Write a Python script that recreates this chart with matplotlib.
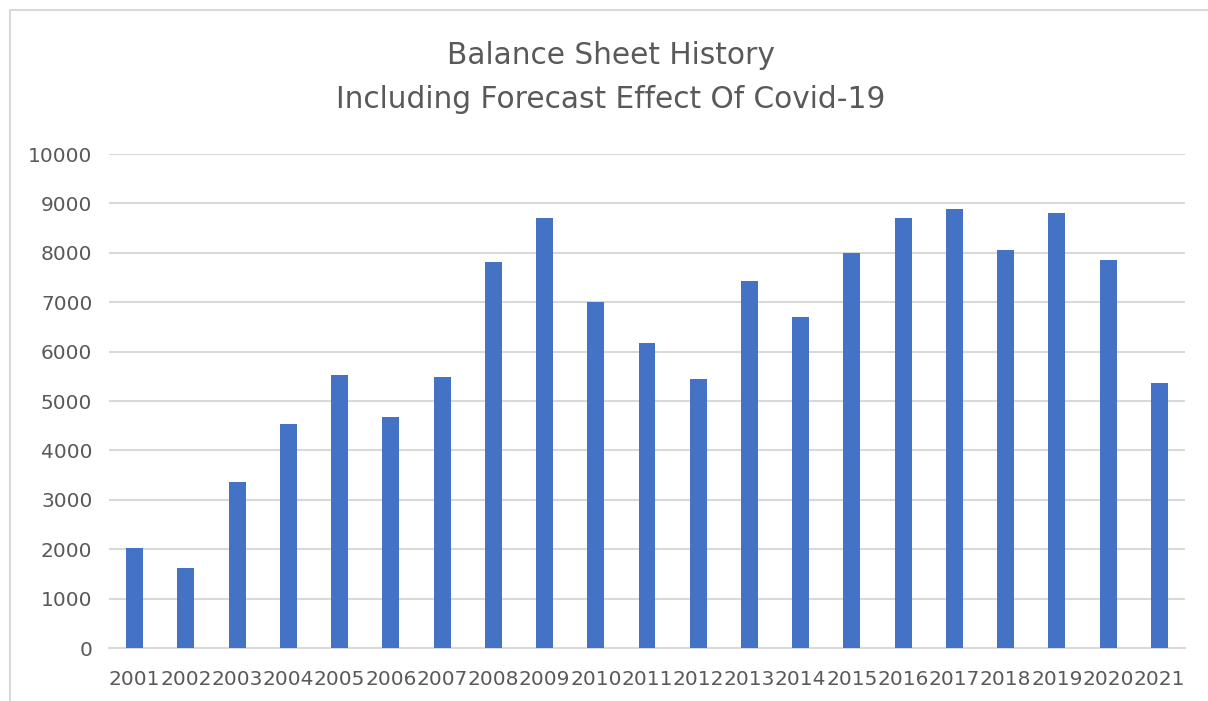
import matplotlib
matplotlib.use("Agg")
import matplotlib.pyplot as plt
from matplotlib.patches import Rectangle

years = ["2001", "2002", "2003", "2004", "2005", "2006", "2007", "2008", "2009", "2010", "2011",
         "2012", "2013", "2014", "2015", "2016", "2017", "2018", "2019", "2020", "2021"]
values = [2020, 1620, 3370, 4540, 5520, 4670, 5490, 7810, 8700, 7000, 6180,
          5450, 7420, 6700, 8000, 8700, 8880, 8050, 8810, 7860, 5370]
yticks = [0, 1000, 2000, 3000, 4000, 5000, 6000, 7000, 8000, 9000, 10000]
title_lines = ["Balance Sheet History", "Including Forecast Effect Of Covid-19"]

W, H = 1208, 701
fig = plt.figure(figsize=(W / 100, H / 100), dpi=100)
plt.rcParams['font.family'] = ['DejaVu Sans']

text_color = "#595959"
grid_color = "#d9d9d9"

# outer chart border
fig.add_artist(Rectangle((10 / W, -0.05), 1.2, (1 - 10 / H) + 0.05, transform=fig.transFigure,
                         facecolor="none", edgecolor=grid_color, linewidth=1.5))

left, right, top, bottom = 109, 1185, 154, 648
ax = fig.add_axes([left / W, 1 - bottom / H, (right - left) / W, (bottom - top) / H])

x = range(len(years))
ax.bar(x, values, width=0.33, color="#4472C4", zorder=3)
ax.set_xlim(-0.5, len(years) - 0.5)
ax.set_ylim(0, 10000)
ax.set_yticks(yticks)
ax.set_yticklabels([str(v) for v in yticks])
ax.set_xticks(list(x))
ax.set_xticklabels(years)
ax.grid(axis="y", color=grid_color, linewidth=1.5, zorder=0)
for s in ["top", "right", "left"]:
    ax.spines[s].set_visible(False)
ax.spines["bottom"].set_color(grid_color)
ax.spines["bottom"].set_linewidth(1.5)
ax.tick_params(axis="both", length=0, colors=text_color, labelsize=14.5)
ax.tick_params(axis="y", pad=12)
ax.tick_params(axis="x", pad=16)

fig.text(611 / W, 1 - 55 / H, title_lines[0], ha="center", va="center", fontsize=21.3, color=text_color)
fig.text(611 / W, 1 - 100 / H, title_lines[1], ha="center", va="center", fontsize=21.3, color=text_color)

fig.savefig("out.png", dpi=100)
